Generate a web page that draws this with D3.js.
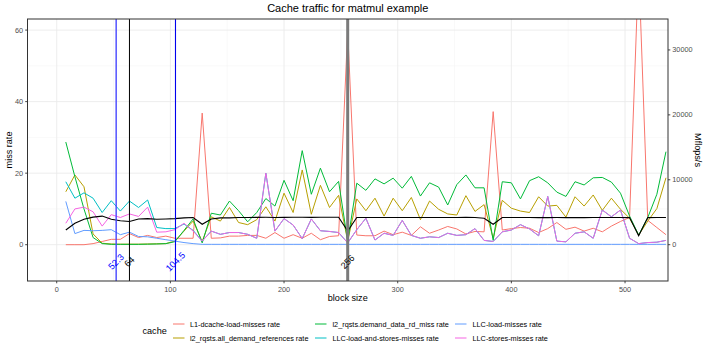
<!DOCTYPE html>
<html><head><meta charset="utf-8">
<script src="https://cdn.jsdelivr.net/npm/d3@7/dist/d3.min.js"></script>
<style>body{margin:0;background:#fff}svg{display:block}</style>
</head><body>
<svg id="c" width="708" height="354"></svg>
<script>
// ---------------- data ----------------
const blockSize = [8,16,24,32,40,48,56,64,72,80,88,96,104,112,120,128,136,144,152,160,168,176,184,192,200,208,216,224,232,240,248,256,264,272,280,288,296,304,312,320,328,336,344,352,360,368,376,384,392,400,408,416,424,432,440,448,456,464,472,480,488,496,504,512,520,528,536];

const l1DcacheLoadMisses = [0,0,0,0.3,0.9,1.5,1.5,3.1,2.0,2.6,2.0,2.4,1.8,1.8,1.8,36.8,
  1.8,1.9,2.4,2.4,2.6,2.6,1.8,3.4,1.8,2.8,1.8,3.2,1.4,2.3,2.5,60,
  2.7,2.5,2.5,3.8,2.8,3.5,2.6,5.0,3.2,4.1,5.1,4.4,3.0,3.7,3.6,37.2,
  4.1,4.5,4.8,4.6,3.4,4.5,6.2,4.3,4.9,3.8,4.6,3.6,5.2,6.5,7.6,78,6.8,4.8,2.8];

const l2AllDemandRefs = [14.8,19.5,16.2,3.0,0.4,0.2,0.15,0.15,0.15,0.2,0.25,0.3,1.0,3.8,6.6,0.9,
  7.8,6.6,10.4,6.2,5.6,7.0,10.6,6.6,14.4,9.0,20.9,8.5,16.6,10.4,13.8,1.0,
  12.8,9.5,13.0,8.0,13.0,9.5,13.2,7.0,12.2,9.9,8.6,8.3,13.7,9.3,11.2,1.8,
  12.4,10.2,9.4,9.0,13.4,10.8,11.0,7.7,13.4,10.8,13.9,9.6,13.0,9.9,7.4,2.7,6.6,10.1,18.7];

const l2DemandDataRdMiss = [28.7,19.0,10.0,2.0,0.3,0.1,0.1,0.1,0.1,0.15,0.2,0.3,0.85,4.0,7.2,0.5,
  8.8,8.3,12.2,9.5,6.4,9.0,12.9,10.8,18.0,12.3,26.3,14.1,21.4,14.8,17.7,0.9,
  17.2,15.2,18.4,17.0,18.6,15.8,19.1,13.6,17.3,16.1,11.1,16.8,19.5,15.9,15.9,1.2,
  17.6,17.3,12.8,17.9,19.0,17.3,14.7,13.5,17.6,16.7,18.7,18.8,17.5,14.4,8.0,2.7,7.6,14.1,26.0];

const llcLoadAndStoresMisses = [17.6,13.0,14.5,13.0,9.0,12.3,9.4,12.2,10.4,12.5,4.8,4.5,4.5,5.8,4.0,1.0,
  3.8,2.9,3.4,3.4,2.9,1.8,20.0,3.8,7.3,5.5,1.7,7.2,3.9,3.7,3.4,0.5,
  4.2,7.4,1.3,3.2,2.6,6.8,2.6,1.8,2.2,2.0,3.2,2.6,2.8,4.5,1.2,0.9,
  3.6,4.1,5.6,4.4,2.5,13.5,1.0,0.8,3.2,3.6,1.8,9.7,7.8,9.7,1.8,0.3,0.6,0.7,1.2];

const llcLoadMisses = [12.1,3.1,4.0,3.9,4.0,4.2,2.8,3.5,2.3,2.2,1.8,1.4,1.0,0.6,0.3,0.1,
  0.1,0.1,0.1,0.1,0.1,0.1,0.1,0.1,0.1,0.1,0.1,0.1,0.1,0.1,0.1,0.1,
  0.1,0.1,0.1,0.1,0.1,0.1,0.1,0.1,0.1,0.1,0.1,0.1,0.1,0.1,0.1,0.1,
  0.1,0.1,0.1,0.1,0.1,0.1,0.1,0.1,0.1,0.1,0.1,0.1,0.1,0.1,0.1,0.1,0.1,0.1,0.1];

const llcStoresMisses = [6.0,10.0,10.5,9.2,5.2,8.4,7.6,8.6,7.9,10.5,3.5,3.6,4.2,6.0,3.8,1.0,
  3.8,2.9,3.4,3.4,2.9,1.8,20.0,3.8,7.3,5.5,1.7,7.2,3.9,3.7,3.4,0.5,
  4.2,7.4,1.3,3.2,2.6,6.8,2.6,1.8,2.2,2.0,3.2,2.6,2.8,4.5,1.2,0.9,
  3.6,4.1,5.6,4.4,2.5,13.5,1.0,0.8,3.2,3.6,1.8,9.7,7.8,9.7,1.8,0.3,0.6,0.7,1.2];

const mflops = [2259,3306,3912,4243,4408,3912,3692,3582,3967,4022,3912,3967,4022,4133,4188,3141,
  3967,4133,4133,4188,4200,4210,4220,4200,4215,4230,4220,4210,4225,4230,4220,2094,
  4180,4190,4200,4190,4185,4195,4200,4190,4180,4185,4195,4200,4210,4190,4080,3141,
  4180,4190,4185,4180,4170,4175,4180,4170,4165,4175,4180,4185,4190,4180,4170,1378,4170,4180,4185];

const seriesNames = ["L1-dcache-load-misses rate","l2_rqsts.all_demand_references rate","l2_rqsts.demand_data_rd_miss rate","LLC-load-and-stores-misses rate","LLC-load-misses rate","LLC-stores-misses rate"];
const seriesColors = ["#F8766D","#B79F00","#00BA38","#00BFC4","#619CFF","#F564E3"];
const seriesValues = [l1DcacheLoadMisses,l2AllDemandRefs,l2DemandDataRdMiss,llcLoadAndStoresMisses,llcLoadMisses,llcStoresMisses];

const vlineValues = [52.3, 64, 104.5, 256];
const vlineLabels = ["52.3","64","104.5","256"];
const vlineColors = ["#4646ff","#000000","#0000ee","#7a7a7a"];
const vlineWidths = [1.4,1,1.1,3];

const xTicks = [0,100,200,300,400,500];
const xMinor = [50,150,250,350,450];
const yTicks = [0,20,40,60];
const yMinor = [-10,10,30,50];
const y2Ticks = [0,10000,20000,30000];

// --------------- layout ---------------
const FONT = "'Liberation Sans', Arial, Helvetica, sans-serif";
const P = {l:27.5, r:668, t:19, b:281};
const secFactor = 551;
const yDom = [-10.15, 63.1];

const svg = d3.select("#c").style("font-family", FONT);
const x = d3.scaleLinear().domain([-25.7, 537.8]).range([P.l, P.r]);
const y = d3.scaleLinear().domain(yDom).range([P.b, P.t]);
const y2 = d3.scaleLinear().domain([yDom[0]*secFactor, yDom[1]*secFactor]).range([P.b, P.t]);

svg.append("rect").attr("x",0).attr("y",0).attr("width",708).attr("height",354).attr("fill","#fff");

svg.append("defs").append("clipPath").attr("id","clip")
  .append("rect").attr("x",P.l).attr("y",P.t).attr("width",P.r-P.l).attr("height",P.b-P.t);

// grid
const g = svg.append("g");
g.selectAll(".xm").data(xMinor).join("line")
  .attr("x1",d=>x(d)).attr("x2",d=>x(d)).attr("y1",P.t).attr("y2",P.b)
  .attr("stroke","#f2f2f2").attr("stroke-width",0.5);
g.selectAll(".ym").data(yMinor).join("line")
  .attr("y1",d=>y(d)).attr("y2",d=>y(d)).attr("x1",P.l).attr("x2",P.r)
  .attr("stroke","#f2f2f2").attr("stroke-width",0.5);
g.selectAll(".xM").data(xTicks).join("line")
  .attr("x1",d=>x(d)).attr("x2",d=>x(d)).attr("y1",P.t).attr("y2",P.b)
  .attr("stroke","#ebebeb").attr("stroke-width",0.9);
g.selectAll(".yM").data(yTicks).join("line")
  .attr("y1",d=>y(d)).attr("y2",d=>y(d)).attr("x1",P.l).attr("x2",P.r)
  .attr("stroke","#ebebeb").attr("stroke-width",0.9);

// series lines
const plot = svg.append("g").attr("clip-path","url(#clip)");
const line = d3.line().x((d,i)=>x(blockSize[i])).y(d=>y(d));
seriesValues.forEach((vals,si)=>{
  plot.append("path").datum(vals).attr("d",line)
    .attr("fill","none").attr("stroke",seriesColors[si]).attr("stroke-width",1)
    .attr("stroke-linejoin","round");
});
const line2 = d3.line().x((d,i)=>x(blockSize[i])).y(d=>y2(d));
plot.append("path").datum(mflops).attr("d",line2)
  .attr("fill","none").attr("stroke","#000").attr("stroke-width",1.1);

// vlines
vlineValues.forEach((v,i)=>{
  plot.append("line").attr("x1",x(v)).attr("x2",x(v)).attr("y1",P.t).attr("y2",P.b)
    .attr("stroke",vlineColors[i]).attr("stroke-width",vlineWidths[i]);
});
const labelColors = ["#0000ff","#000","#0000ff","#000"];
vlineValues.forEach((v,i)=>{
  const px = x(v), py = y(-4.8);
  svg.append("text").attr("transform",`translate(${px},${py}) rotate(-45)`)
    .attr("text-anchor","middle").attr("dominant-baseline","central")
    .attr("font-size",9.2).attr("fill",labelColors[i]).text(vlineLabels[i]);
});

// border
svg.append("rect").attr("x",P.l).attr("y",P.t).attr("width",P.r-P.l).attr("height",P.b-P.t)
  .attr("fill","none").attr("stroke","#333").attr("stroke-width",1);

// axes
const tickCol = "#333", labCol = "#4d4d4d", TL = 2.3, TFS = 7.3;
xTicks.forEach(t=>{
  svg.append("line").attr("x1",x(t)).attr("x2",x(t)).attr("y1",P.b).attr("y2",P.b+TL).attr("stroke",tickCol).attr("stroke-width",0.9);
  svg.append("text").attr("x",x(t)).attr("y",P.b+TL+8.2).attr("text-anchor","middle")
    .attr("font-size",TFS).attr("fill",labCol).text(t);
});
yTicks.forEach(t=>{
  svg.append("line").attr("x1",P.l-TL).attr("x2",P.l).attr("y1",y(t)).attr("y2",y(t)).attr("stroke",tickCol).attr("stroke-width",0.9);
  svg.append("text").attr("x",P.l-TL-2).attr("y",y(t)).attr("text-anchor","end").attr("dominant-baseline","central")
    .attr("font-size",TFS).attr("fill",labCol).text(t);
});
y2Ticks.forEach(t=>{
  svg.append("line").attr("x1",P.r).attr("x2",P.r+TL).attr("y1",y2(t)).attr("y2",y2(t)).attr("stroke",tickCol).attr("stroke-width",0.9);
  svg.append("text").attr("x",P.r+TL+2).attr("y",y2(t)).attr("text-anchor","start").attr("dominant-baseline","central")
    .attr("font-size",TFS).attr("fill",labCol).text(t);
});

// titles
svg.append("text").attr("x",(P.l+P.r)/2).attr("y",12.3).attr("text-anchor","middle")
  .attr("font-size",11).attr("fill","#000").text("Cache traffic for matmul example");
svg.append("text").attr("x",(P.l+P.r)/2).attr("y",301).attr("text-anchor","middle")
  .attr("font-size",9.1).attr("fill","#000").text("block size");
svg.append("text").attr("transform",`translate(12,${(P.t+P.b)/2}) rotate(-90)`).attr("text-anchor","middle")
  .attr("font-size",9.1).attr("fill","#000").text("miss rate");
svg.append("text").attr("transform",`translate(695,${(P.t+P.b)/2}) rotate(90)`).attr("text-anchor","middle")
  .attr("font-size",9.1).attr("fill","#000").text("Mflops/s");

// legend
svg.append("text").attr("x",142.5).attr("y",331).attr("dominant-baseline","central")
  .attr("font-size",9.1).attr("fill","#000").text("cache");
const colKeyX = [173, 315, 455];
const colTextX = [190, 332.5, 472.5];
const rowY = [324, 338];
seriesNames.forEach((n,i)=>{
  const c = Math.floor(i/2), r = i%2;
  svg.append("line").attr("x1",colKeyX[c]).attr("x2",colKeyX[c]+11.5).attr("y1",rowY[r]).attr("y2",rowY[r])
    .attr("stroke",seriesColors[i]).attr("stroke-width",1);
  svg.append("text").attr("x",colTextX[c]).attr("y",rowY[r]).attr("dominant-baseline","central")
    .attr("font-size",7.3).attr("fill","#000").text(n);
});
</script>
</body></html>
